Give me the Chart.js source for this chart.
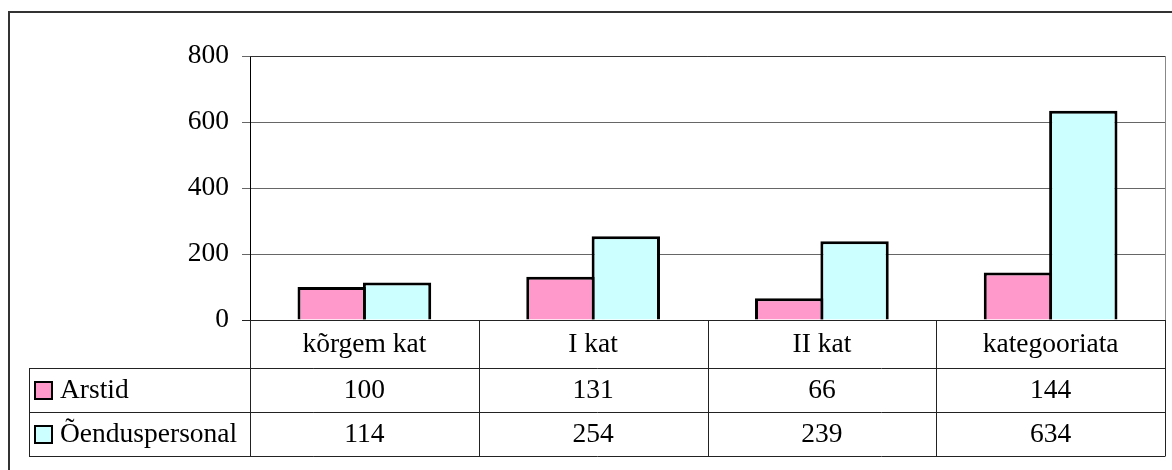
<!DOCTYPE html>
<html>
<head>
<meta charset="utf-8">
<script src="https://cdn.jsdelivr.net/npm/chart.js@4/dist/chart.umd.min.js"></script>
<style>
  html, body { margin: 0; padding: 0; background: #fff; }
  #wrap { width: 1172px; height: 470px; position: relative; }
</style>
</head>
<body>
<div id="wrap"><canvas id="myChart" width="1172" height="470"></canvas></div>
<script>
const categories = ["kõrgem kat", "I kat", "II kat", "kategooriata"];
const seriesNames = ["Arstid", "Õenduspersonal"];
const arstid = [100, 131, 66, 144];
const oendus = [114, 254, 239, 634];
const yTicks = [0, 200, 400, 600, 800];

const FONT = "Liberation Serif, 'Times New Roman', serif";
const FONT_SIZE = 27.5;
const colors = ["#FF99CC", "#CCFFFF"];

// data table + borders drawn under the x axis
const tablePlugin = {
  id: "dataTable",
  afterDraw(chart) {
    const ctx = chart.ctx;
    const area = chart.chartArea;
    const x = chart.scales.x;
    const tableLeft = 29;
    const rowH = [48, 44, 44];
    const top = area.bottom;
    const ys = [top];
    rowH.forEach((h) => ys.push(ys[ys.length - 1] + h));
    const colEdges = [area.left];
    categories.forEach((c, i) => {
      colEdges.push(area.left + (area.right - area.left) * (i + 1) / categories.length);
    });

    ctx.save();
    // outer chart border
    ctx.strokeStyle = "#333";
    ctx.lineWidth = 2;
    ctx.strokeRect(9, 12, 1200, 500);

    // plot area border
    ctx.lineWidth = 1;
    ctx.strokeStyle = "#333";
    ctx.beginPath();
    ctx.moveTo(area.left, area.top + 0.5);
    ctx.lineTo(area.right + 0.5, area.top + 0.5);
    ctx.stroke();
    ctx.strokeStyle = "#888";
    ctx.beginPath();
    ctx.moveTo(area.right + 0.5, area.top);
    ctx.lineTo(area.right + 0.5, area.bottom);
    ctx.stroke();

    // table lines
    ctx.strokeStyle = "#222";
    ctx.lineWidth = 1;
    ctx.beginPath();
    ctx.moveTo(area.left - 8, top + 0.5);
    ctx.lineTo(area.right + 0.5, top + 0.5);
    for (let r = 1; r < ys.length; r++) {
      ctx.moveTo(tableLeft, ys[r] + 0.5);
      ctx.lineTo(area.right + 0.5, ys[r] + 0.5);
    }
    ctx.moveTo(tableLeft + 0.5, ys[1]);
    ctx.lineTo(tableLeft + 0.5, ys[3]);
    colEdges.forEach((cx) => {
      const px = Math.round(cx) + 0.5;
      ctx.moveTo(px, top);
      ctx.lineTo(px, ys[3]);
    });
    ctx.stroke();

    // text
    ctx.fillStyle = "#000";
    ctx.font = FONT_SIZE + "px " + FONT;
    ctx.textBaseline = "middle";
    ctx.textAlign = "center";
    categories.forEach((c, i) => {
      const cx = x.getPixelForValue(i);
      ctx.fillText(c, cx, (ys[0] + ys[1]) / 2 + 1);
      ctx.fillText(String(arstid[i]), cx, (ys[1] + ys[2]) / 2 + 1);
      ctx.fillText(String(oendus[i]), cx, (ys[2] + ys[3]) / 2 + 1);
    });

    // legend keys
    ctx.textAlign = "left";
    seriesNames.forEach((name, k) => {
      const cy = (ys[k + 1] + ys[k + 2]) / 2;
      ctx.fillStyle = colors[k];
      ctx.fillRect(35, cy - 8, 17, 17);
      ctx.strokeStyle = "#000";
      ctx.lineWidth = 2;
      ctx.strokeRect(35, cy - 8, 17, 17);
      ctx.fillStyle = "#000";
      ctx.fillText(name, 60, cy + 1);
    });
    ctx.restore();
  },
};

const ctx = document.getElementById("myChart").getContext("2d");

new Chart(ctx, {
  type: "bar",
  data: {
    labels: categories,
    datasets: [
      {
        label: seriesNames[0],
        data: arstid,
        backgroundColor: colors[0],
        borderColor: "#000",
        borderWidth: 3,
      },
      {
        label: seriesNames[1],
        data: oendus,
        backgroundColor: colors[1],
        borderColor: "#000",
        borderWidth: 3,
      },
    ],
  },
  options: {
    responsive: false,
    animation: false,
    layout: {
      padding: { left: 0, top: 56, right: 7, bottom: 150 },
    },
    datasets: {
      bar: {
        categoryPercentage: 2 / 3.5,
        barPercentage: 1.046, // bars overlap so neighbours share one border
      },
    },
    scales: {
      x: {
        display: false,
      },
      y: {
        min: 0,
        max: 800,
        afterFit: function (scale) {
          scale.width = 250;
        },
        afterBuildTicks: function (scale) {
          scale.ticks = yTicks.map((v) => ({ value: v }));
        },
        ticks: {
          color: "#000",
          padding: 13,
          font: { family: FONT, size: FONT_SIZE },
        },
        grid: {
          color: function (c) {
            return c.tick && c.tick.value === 0 ? "#000" : "#666";
          },
          tickColor: "#666",
          tickLength: 8,
          drawOnChartArea: true,
        },
        border: {
          color: "#000",
          width: 1,
        },
      },
    },
    plugins: {
      legend: { display: false },
      tooltip: { enabled: false },
    },
  },
  plugins: [tablePlugin],
});
</script>
</body>
</html>
